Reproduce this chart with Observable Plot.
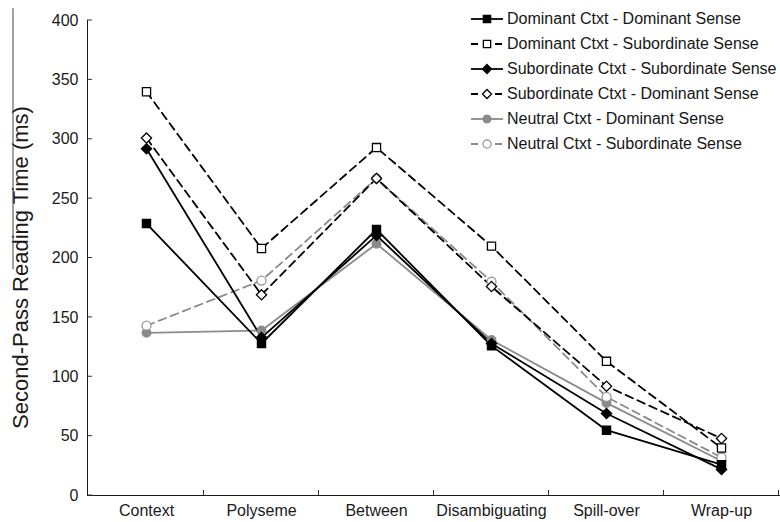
<!DOCTYPE html>
<html><head><meta charset="utf-8">
<script src="https://cdn.jsdelivr.net/npm/d3@7"></script>
<script src="https://cdn.jsdelivr.net/npm/@observablehq/plot@0.6"></script>
<style>
body{margin:0;background:#fff;font-family:"Liberation Sans",Arial,sans-serif;}
#wrap{position:relative;width:780px;height:522px;overflow:hidden;}
#legend{position:absolute;left:469px;top:6px;font-size:16px;color:#161616;}
.row{display:flex;align-items:center;height:25px;white-space:nowrap;}
.row svg{flex:none;margin-right:2px;}
</style></head><body><div id="wrap"><div id="chart"></div><div id="legend"></div></div>
<script>
const categories = ["Context","Polyseme","Between","Disambiguating","Spill-over","Wrap-up"];
const yTicks = [0,50,100,150,200,250,300,350,400];
const yTitle = "Second-Pass Reading Time (ms)";
const seriesNames = [
  "Dominant Ctxt - Dominant Sense",
  "Dominant Ctxt - Subordinate Sense",
  "Subordinate Ctxt - Subordinate Sense",
  "Subordinate Ctxt - Dominant Sense",
  "Neutral Ctxt - Dominant Sense",
  "Neutral Ctxt - Subordinate Sense"
];
const domCtxDomSense = [229, 128, 224, 126, 55, 26];
const domCtxSubSense = [340, 208, 293, 210, 113, 40];
const subCtxSubSense = [292, 133, 219, 128, 69, 22];
const subCtxDomSense = [301, 169, 267, 176, 92, 48];
const neuCtxDomSense = [137, 139, 212, 131, 78, 29];
const neuCtxSubSense = [143, 181, 267, 180, 83, 32];
const seriesValues = [domCtxDomSense, domCtxSubSense, subCtxSubSense, subCtxDomSense, neuCtxDomSense, neuCtxSubSense];

// styles (separate from data)
const GRAY = "#8a8a8a";
const styles = [
  {stroke:"#000", dash:null, symbol:"square", fill:"#000", dotStroke:"#000", r:4.6},
  {stroke:"#000", dash:"8,5", symbol:"square", fill:"#fff", dotStroke:"#000", r:4.6},
  {stroke:"#000", dash:null, symbol:"diamond2", fill:"#000", dotStroke:"#000", r:4.6},
  {stroke:"#000", dash:"8,5", symbol:"diamond2", fill:"#fff", dotStroke:"#000", r:4.6},
  {stroke:GRAY, dash:null, symbol:"circle", fill:GRAY, dotStroke:GRAY, r:4.3},
  {stroke:GRAY, dash:"8,5", symbol:"circle", fill:"#fff", dotStroke:"#999", r:4.5}
];

const data = [];
seriesNames.forEach((name, si) => seriesValues[si].forEach((v, i) => data.push({series: name, si, cat: categories[i], value: v})));

const marks = [];
const order = [4,5,0,2,3,1];
order.forEach(si => {
  const st = styles[si];
  const d = data.filter(e => e.si === si);
  marks.push(Plot.line(d, {x:"cat", y:"value", stroke:st.stroke, strokeWidth:1.8, strokeDasharray:st.dash || undefined}));
});
order.forEach(si => {
  const st = styles[si];
  const d = data.filter(e => e.si === si);
  marks.push(Plot.dot(d, {x:"cat", y:"value", symbol:st.symbol, fill:st.fill, stroke:st.dotStroke, strokeWidth:1.3, r:st.r}));
});

const chart = Plot.plot({
  width:780, height:522,
  marginLeft:87, marginRight:0, marginTop:20, marginBottom:27,
  style:{fontFamily:"'Liberation Sans', Arial, sans-serif", fontSize:"16px", color:"#1a1a1a", background:"white", overflow:"visible"},
  x:{type:"point", domain:categories, padding:0.5, label:null, tickSize:0, tickPadding:9, line:true},
  y:{domain:[0,400], ticks:yTicks, label:null, tickSize:0, tickPadding:9, line:true},
  marks
});
document.getElementById("chart").appendChild(chart);

// inward ticks and category boundary ticks, positioned with the plot's scales
const xs = chart.scale("x"), ys = chart.scale("y");
const svg = d3.select(chart);
const g = svg.append("g").attr("stroke","#333").attr("stroke-width",1);
const x0 = xs.range[0];
yTicks.forEach(t => g.append("line").attr("x1",x0).attr("x2",x0+5).attr("y1",ys.apply(t)).attr("y2",ys.apply(t)));
const step = xs.apply(categories[1]) - xs.apply(categories[0]);
const yb = ys.apply(0);
categories.forEach(c => { const bx = xs.apply(c) + step/2; g.append("line").attr("x1",bx).attr("x2",bx).attr("y1",yb).attr("y2",yb-5); });
const ym = (ys.apply(0) + ys.apply(400)) / 2 + 10;
svg.append("text").attr("transform",`translate(28,${ym}) rotate(-90)`).attr("text-anchor","middle")
  .attr("font-size",22).attr("fill","#1a1a1a").text(yTitle);
// thin stray rule over the title seen in the source figure
svg.append("line").attr("x1",13).attr("x2",13).attr("y1",ys.apply(410)).attr("y2",ys.apply(190)).attr("stroke","#444").attr("stroke-width",1);

// legend
const leg = d3.select("#legend");
seriesNames.forEach((name, si) => {
  const st = styles[si];
  const row = leg.append("div").attr("class","row");
  const s = row.append("svg").attr("width",36).attr("height",20);
  s.append("line").attr("x1",2).attr("x2",34).attr("y1",10).attr("y2",10).attr("stroke",st.stroke).attr("stroke-width",1.8)
    .attr("stroke-dasharray", st.dash ? "7,17" : null);
  const sym = {square:d3.symbolSquare, diamond2:d3.symbolDiamond2, circle:d3.symbolCircle}[st.symbol];
  s.append("path").attr("transform","translate(18,10)").attr("d", d3.symbol(sym, Math.PI*st.r*st.r*0.8)())
    .attr("fill",st.fill).attr("stroke",st.dotStroke).attr("stroke-width",1.3);
  row.append("span").text(name);
});
</script></body></html>
